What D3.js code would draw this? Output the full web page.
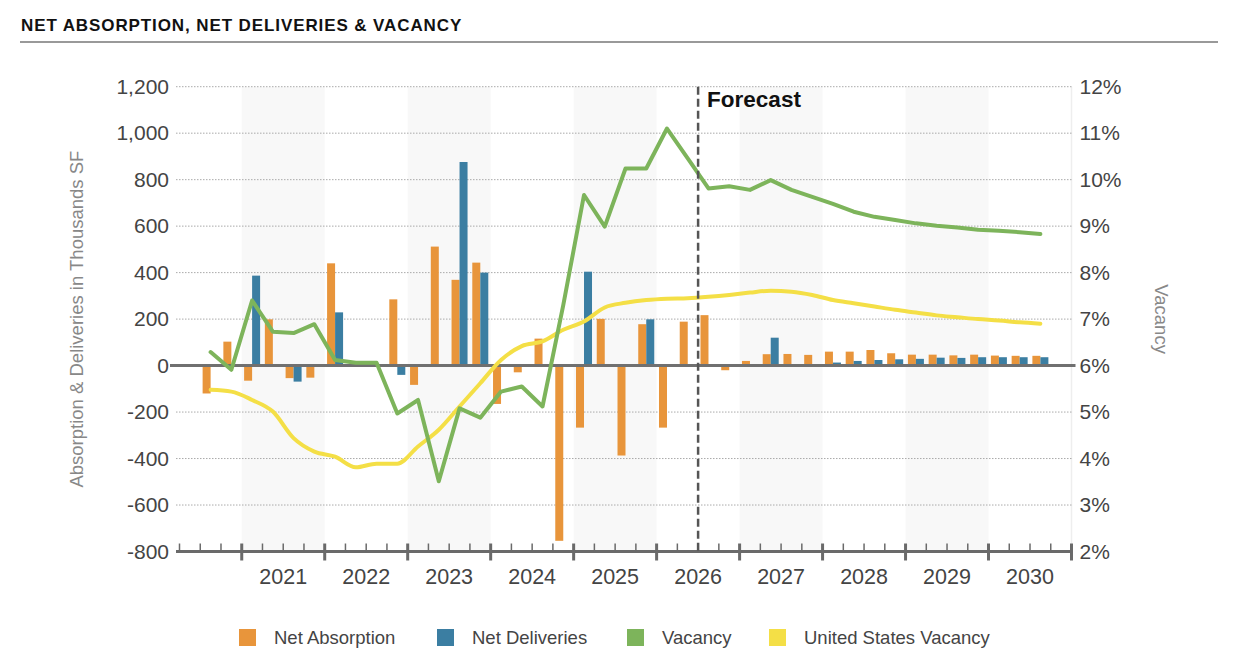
<!DOCTYPE html>
<html>
<head>
<meta charset="utf-8">
<script src="https://cdn.jsdelivr.net/npm/d3@7"></script>
<style>
  body { margin: 0; background: #fff; }
  svg text { font-family: "Liberation Sans", Arial, sans-serif; }
</style>
</head>
<body>
<div class="chart"></div>
<script>
// quarters on the x axis, 2020 Q2 .. 2030 Q4
var quarters = [
  "2020 Q2","2020 Q3","2020 Q4",
  "2021 Q1","2021 Q2","2021 Q3","2021 Q4",
  "2022 Q1","2022 Q2","2022 Q3","2022 Q4",
  "2023 Q1","2023 Q2","2023 Q3","2023 Q4",
  "2024 Q1","2024 Q2","2024 Q3","2024 Q4",
  "2025 Q1","2025 Q2","2025 Q3","2025 Q4",
  "2026 Q1","2026 Q2","2026 Q3","2026 Q4",
  "2027 Q1","2027 Q2","2027 Q3","2027 Q4",
  "2028 Q1","2028 Q2","2028 Q3","2028 Q4",
  "2029 Q1","2029 Q2","2029 Q3","2029 Q4",
  "2030 Q1","2030 Q2","2030 Q3","2030 Q4"
];
var years = [2021, 2022, 2023, 2024, 2025, 2026, 2027, 2028, 2029, 2030];
var shadedYears = [2021, 2023, 2025, 2027, 2029];
var forecastStart = "2026 Q3";

// thousands SF
var netAbsorption = [null,
  -120, 103,
  -65, 199, -54, -52,
  440, 0, 0, 285,
  -83, 512, 369, 443,
  -165, -29, 116, -754,
  -267, 201, -387, 178,
  -267, 189, 217, -20,
  20, 49, 50, 46,
  60, 60, 67, 53,
  47, 47, 44, 47,
  43, 42, 42, null];
var netDeliveries = [null,
  0, 0,
  387, 0, -69, 0,
  229, 0, 0, -40,
  0, 0, 876, 400,
  0, 0, 0, 0,
  404, 0, 0, 199,
  0, 0, 0, 3,
  3, 120, 3, 3,
  13, 20, 24, 27,
  29, 34, 33, 36,
  36, 36, 36, null];
// percent
var vacancy = [null,
  6.29, 5.91,
  7.40, 6.73, 6.70, 6.89,
  6.12, 6.06, 6.06, 4.97,
  5.26, 3.51, 5.08, 4.88,
  5.44, 5.55, 5.12, 7.30,
  9.67, 8.99, 10.24, 10.24,
  11.10, 10.46, 9.81, 9.86,
  9.78, 9.99, 9.78, 9.63,
  9.48, 9.31, 9.20, 9.13,
  9.06, 9.01, 8.97, 8.92,
  8.90, 8.87, 8.83, null];
var usVacancy = [null,
  5.48, 5.44,
  5.26, 5.01, 4.44, 4.15,
  4.04, 3.81, 3.89, 3.89,
  4.26, 4.62, 5.12, 5.62,
  6.12, 6.42, 6.52, 6.77,
  6.95, 7.25, 7.35, 7.41,
  7.44, 7.45, 7.48, 7.52,
  7.57, 7.61, 7.59, 7.52,
  7.41, 7.34, 7.27, 7.20,
  7.14, 7.08, 7.04, 7.00,
  6.97, 6.93, 6.90, null];

var leftTicks = [-800, -600, -400, -200, 0, 200, 400, 600, 800, 1000, 1200];
var rightTicks = [2, 3, 4, 5, 6, 7, 8, 9, 10, 11, 12];

var legendItems = [
  {name: "Net Absorption", color: "#E8953B", x: 239},
  {name: "Net Deliveries", color: "#3B7EA2", x: 437},
  {name: "Vacancy", color: "#7DB45B", x: 627},
  {name: "United States Vacancy", color: "#F4DF46", x: 769}
];

var svg;
var W = 1240, H = 658;
var plotLeft = 179.5, plotRight = 1071.5, plotTop = 86.7, plotBottom = 551.5;

(function(){
  createSVGCanvas();
  var x = d3.scaleBand().domain(quarters).range([plotLeft, plotRight]).padding(0);
  var yLeft = d3.scaleLinear().domain([-800, 1200]).range([plotBottom, plotTop]);
  var yRight = d3.scaleLinear().domain([2, 12]).range([plotBottom, plotTop]);
  drawTitle();
  drawBands(x);
  drawGrid(yLeft);
  drawBars(x, yLeft);
  drawAxes(x, yLeft, yRight);
  drawLines(x, yRight);
  drawForecast(x);
  drawLegend();
})();

function createSVGCanvas(){
  svg = d3.select('.chart').append('svg').attr('width', W).attr('height', H);
}

function drawTitle(){
  svg.append('text')
    .attr('x', 21).attr('y', 31)
    .style('font-size', '17px').style('font-weight', 'bold').style('fill', '#111')
    .style('letter-spacing', '0.9px')
    .text('NET ABSORPTION, NET DELIVERIES & VACANCY');
  svg.append('line')
    .attr('x1', 20).attr('x2', 1218).attr('y1', 42).attr('y2', 42)
    .style('stroke', '#777').style('stroke-width', 1.3);
}

function drawBands(x){
  svg.append('g').selectAll('rect')
    .data(shadedYears)
    .enter()
    .append('rect')
    .attr('x', function(d){ return x(d + ' Q1'); })
    .attr('width', x.bandwidth() * 4)
    .attr('y', plotTop)
    .attr('height', plotBottom - plotTop)
    .style('fill', '#F8F8F8');
  svg.append('line')
    .attr('x1', plotRight).attr('x2', plotRight).attr('y1', plotTop).attr('y2', plotBottom)
    .style('stroke', '#EEEEEE').style('stroke-width', 1.5);
}

function drawGrid(y){
  svg.append('g').selectAll('line')
    .data(leftTicks.filter(function(d){ return d !== 0 && d !== -800; }))
    .enter()
    .append('line')
    .attr('x1', 176).attr('x2', plotRight)
    .attr('y1', function(d){ return y(d); })
    .attr('y2', function(d){ return y(d); })
    .style('stroke', '#AAAAAA').style('stroke-width', 1)
    .style('stroke-dasharray', '1.5,1.5');
}

function drawBars(x, y){
  var bw = 8;
  var g = svg.append('g');
  g.selectAll('rect.abs')
    .data(quarters.filter(function(q, i){ return netAbsorption[i] !== null; }))
    .enter()
    .append('rect')
    .attr('class', 'abs')
    .attr('x', function(q){ return x(q) + x.bandwidth() / 2 - bw; })
    .attr('width', bw)
    .attr('y', function(q){ var v = netAbsorption[quarters.indexOf(q)]; return y(Math.max(0, v)); })
    .attr('height', function(q){ var v = netAbsorption[quarters.indexOf(q)]; return Math.abs(y(v) - y(0)); })
    .style('fill', legendItems[0].color);
  g.selectAll('rect.del')
    .data(quarters.filter(function(q, i){ return netDeliveries[i] !== null; }))
    .enter()
    .append('rect')
    .attr('class', 'del')
    .attr('x', function(q){ return x(q) + x.bandwidth() / 2; })
    .attr('width', bw)
    .attr('y', function(q){ var v = netDeliveries[quarters.indexOf(q)]; return y(Math.max(0, v)); })
    .attr('height', function(q){ var v = netDeliveries[quarters.indexOf(q)]; return Math.abs(y(v) - y(0)); })
    .style('fill', legendItems[1].color);
}

function drawAxes(x, yLeft, yRight){
  var fmt = function(d){ return d3.format(',')(d).replace('\u2212', '-'); };
  var left = svg.append('g')
    .attr('transform', 'translate(176,0)')
    .call(d3.axisLeft(yLeft).tickValues(leftTicks).tickFormat(fmt).tickSize(0).tickPadding(7));
  left.select('.domain').remove();
  left.selectAll('text').style('font-size', '21px').style('fill', '#444')
    .style('font-family', '"Liberation Sans", Arial, sans-serif');

  var right = svg.append('g')
    .attr('transform', 'translate(' + plotRight + ',0)')
    .call(d3.axisRight(yRight).tickValues(rightTicks).tickFormat(function(d){ return d + '%'; }).tickSize(0).tickPadding(8));
  right.select('.domain').remove();
  right.selectAll('text').style('font-size', '21px').style('fill', '#444')
    .style('font-family', '"Liberation Sans", Arial, sans-serif');

  // zero line
  svg.append('line')
    .attr('x1', 170).attr('x2', plotRight + 4)
    .attr('y1', yLeft(0)).attr('y2', yLeft(0))
    .style('stroke', '#707070').style('stroke-width', 3);

  // bottom axis with quarter ticks
  var axisY = plotBottom;
  var g = svg.append('g');
  g.append('line')
    .attr('x1', 176).attr('x2', plotRight + 1)
    .attr('y1', axisY).attr('y2', axisY)
    .style('stroke', '#6a6a6a').style('stroke-width', 3);
  g.selectAll('line.tick')
    .data(quarters)
    .enter()
    .append('line')
    .attr('class', 'tick')
    .attr('x1', function(q){ return x(q); })
    .attr('x2', function(q){ return x(q); })
    .attr('y1', axisY - 8)
    .attr('y2', function(q){ return /Q1$/.test(q) ? axisY + 9 : axisY; })
    .style('stroke', '#6a6a6a')
    .style('stroke-width', function(q){ return /Q1$/.test(q) ? 3 : 1.5; });
  g.append('line')
    .attr('x1', plotRight).attr('x2', plotRight)
    .attr('y1', axisY - 8).attr('y2', axisY + 9)
    .style('stroke', '#6a6a6a').style('stroke-width', 3);

  g.selectAll('text.year')
    .data(years)
    .enter()
    .append('text')
    .attr('class', 'year')
    .attr('x', function(d){ return x(d + ' Q1') + x.bandwidth() * 2; })
    .attr('y', 584)
    .attr('text-anchor', 'middle')
    .style('font-size', '21.5px').style('fill', '#444')
    .text(function(d){ return d; });

  svg.append('text')
    .attr('transform', 'translate(83,' + ((plotTop + plotBottom) / 2) + ') rotate(-90)')
    .attr('text-anchor', 'middle')
    .style('font-size', '18.5px').style('fill', '#888')
    .text('Absorption & Deliveries in Thousands SF');
  svg.append('text')
    .attr('transform', 'translate(1155,' + ((plotTop + plotBottom) / 2) + ') rotate(90)')
    .attr('text-anchor', 'middle')
    .style('font-size', '18.5px').style('fill', '#888')
    .text('Vacancy');
}

function drawLines(x, y){
  var mid = function(q){ return x(q) + x.bandwidth() / 2; };
  var us = d3.line()
    .defined(function(q){ return usVacancy[quarters.indexOf(q)] !== null; })
    .x(mid)
    .y(function(q){ return y(usVacancy[quarters.indexOf(q)]); })
    .curve(d3.curveMonotoneX);
  var vac = d3.line()
    .defined(function(q){ return vacancy[quarters.indexOf(q)] !== null; })
    .x(mid)
    .y(function(q){ return y(vacancy[quarters.indexOf(q)]); });
  svg.append('path')
    .datum(quarters)
    .attr('d', us)
    .style('fill', 'none').style('stroke', legendItems[3].color)
    .style('stroke-width', 4).style('stroke-linecap', 'round').style('stroke-linejoin', 'round');
  svg.append('path')
    .datum(quarters)
    .attr('d', vac)
    .style('fill', 'none').style('stroke', legendItems[2].color)
    .style('stroke-width', 4).style('stroke-linecap', 'round').style('stroke-linejoin', 'round');
}

function drawForecast(x){
  var fx = x(forecastStart);
  svg.append('line')
    .attr('x1', fx).attr('x2', fx).attr('y1', plotTop).attr('y2', plotBottom)
    .style('stroke', '#555').style('stroke-width', 2.5).style('stroke-dasharray', '8,4');
  svg.append('text')
    .attr('x', fx + 9).attr('y', 107)
    .style('font-size', '22.5px').style('font-weight', 'bold').style('fill', '#111')
    .text('Forecast');
}

function drawLegend(){
  var g = svg.append('g').selectAll('g')
    .data(legendItems)
    .enter()
    .append('g')
    .attr('transform', function(d){ return 'translate(' + d.x + ',629)'; });
  g.append('rect')
    .attr('width', 17).attr('height', 17)
    .style('fill', function(d){ return d.color; });
  g.append('text')
    .attr('x', 35).attr('y', 15)
    .style('font-size', '18.5px').style('fill', '#444')
    .text(function(d){ return d.name; });
}
</script>
</body>
</html>
